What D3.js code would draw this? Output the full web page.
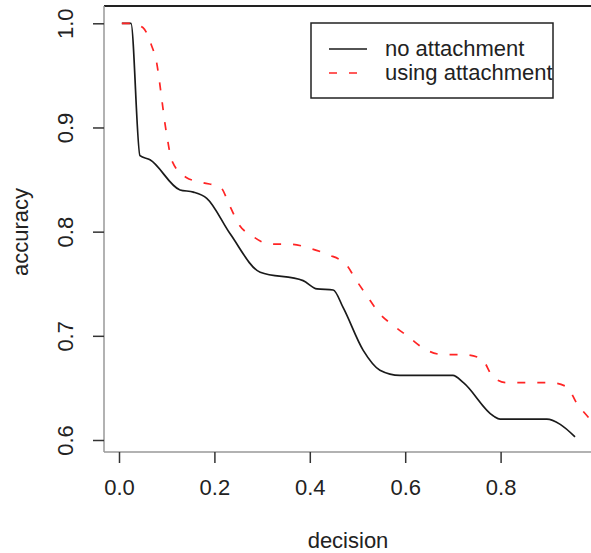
<!DOCTYPE html>
<html>
<head>
<meta charset="utf-8">
<script src="https://cdn.jsdelivr.net/npm/d3@7"></script>
<style>
  body { margin: 0; background: #fff; }
  svg { display: block; }
</style>
</head>
<body>
<svg id="chart"></svg>
<script>
// decision thresholds and accuracy
const noAttachDecision = [0.006, 0.025, 0.044, 0.065, 0.128, 0.156, 0.184, 0.233, 0.296, 0.386, 0.415, 0.449, 0.470, 0.512, 0.547, 0.589, 0.700, 0.722, 0.785, 0.799, 0.897, 0.925, 0.956];
const noAttachAccuracy = [1.0, 1.0, 0.873, 0.869, 0.840, 0.838, 0.832, 0.798, 0.761, 0.753, 0.745, 0.744, 0.727, 0.686, 0.667, 0.662, 0.662, 0.655, 0.623, 0.620, 0.620, 0.615, 0.603];

const attachDecision = [0.006, 0.025, 0.050, 0.068, 0.079, 0.090, 0.096, 0.103, 0.110, 0.141, 0.176, 0.212, 0.233, 0.250, 0.282, 0.317, 0.359, 0.400, 0.438, 0.477, 0.495, 0.519, 0.547, 0.575, 0.607, 0.642, 0.680, 0.722, 0.760, 0.785, 0.813, 0.904, 0.939, 0.960, 0.987, 1.0];
const attachAccuracy = [1.0, 1.0, 0.996, 0.979, 0.962, 0.926, 0.905, 0.885, 0.869, 0.852, 0.847, 0.843, 0.824, 0.808, 0.795, 0.788, 0.788, 0.784, 0.778, 0.768, 0.755, 0.739, 0.721, 0.710, 0.699, 0.687, 0.682, 0.682, 0.678, 0.660, 0.655, 0.655, 0.651, 0.635, 0.620, 0.612];

const xTicks = [0, 0.2, 0.4, 0.6, 0.8];
const yTicks = [0.6, 0.7, 0.8, 0.9, 1.0];
const seriesNames = ['no attachment', 'using attachment'];

const width = 591;
const height = 553;
const font = '"Liberation Sans", Arial, sans-serif';
const fontSize = 22;

const svg = d3.select('#chart')
    .attr('width', width)
    .attr('height', height)
    .attr('font-family', font);

// plot box (the right side runs off the picture)
const box = { left: 104, top: 6, right: 620, bottom: 452 };

const x = d3.scaleLinear().domain([0, 1]).range([119, 596]);
const y = d3.scaleLinear().domain([0.6, 1.0]).range([440, 23.3]);

svg.append('clipPath')
    .attr('id', 'plotclip')
    .append('rect')
    .attr('x', box.left)
    .attr('y', box.top)
    .attr('width', box.right - box.left)
    .attr('height', box.bottom - box.top);

// lines
const line = d3.line()
    .x(d => x(d[0]))
    .y(d => y(d[1]))
    .curve(d3.curveMonotoneX);

const noAttach = noAttachDecision.map((d, i) => [d, noAttachAccuracy[i]]);
const attach = attachDecision.map((d, i) => [d, attachAccuracy[i]]);

const plot = svg.append('g').attr('clip-path', 'url(#plotclip)');

plot.append('path')
    .datum(noAttach)
    .attr('d', line)
    .attr('fill', 'none')
    .attr('stroke', '#1a1a1a')
    .attr('stroke-width', 1.7);

plot.append('path')
    .datum(attach)
    .attr('d', line)
    .attr('fill', 'none')
    .attr('stroke', '#ff2424')
    .attr('stroke-width', 1.7)
    .attr('stroke-dasharray', '8,12');

// box edges
svg.append('line')
    .attr('x1', box.left).attr('x2', width)
    .attr('y1', box.top).attr('y2', box.top)
    .attr('stroke', '#222').attr('stroke-width', 2);
svg.append('line')
    .attr('x1', box.left).attr('x2', box.left)
    .attr('y1', box.top).attr('y2', box.bottom)
    .attr('stroke', '#999').attr('stroke-width', 1.5);
svg.append('line')
    .attr('x1', box.left).attr('x2', width)
    .attr('y1', box.bottom).attr('y2', box.bottom)
    .attr('stroke', '#999').attr('stroke-width', 1.5);

// x axis
const xAxis = svg.append('g')
    .attr('transform', `translate(0,${box.bottom})`)
    .call(d3.axisBottom(x).tickValues(xTicks).tickSize(11).tickPadding(16).tickFormat(d3.format('.1f')));
xAxis.select('.domain').remove();
xAxis.selectAll('line').attr('stroke', '#333').attr('stroke-width', 1.5);
xAxis.selectAll('text')
    .attr('font-family', font)
    .attr('font-size', fontSize)
    .attr('fill', '#222');

// y axis, labels rotated as in R
const yAxis = svg.append('g')
    .attr('transform', `translate(${box.left},0)`)
    .call(d3.axisLeft(y).tickValues(yTicks).tickSize(11).tickFormat(d3.format('.1f')));
yAxis.select('.domain').remove();
yAxis.selectAll('line').attr('stroke', '#333').attr('stroke-width', 1.5);
yAxis.selectAll('text')
    .attr('font-family', font)
    .attr('font-size', fontSize)
    .attr('fill', '#222')
    .attr('x', null)
    .attr('dy', null)
    .attr('text-anchor', 'middle')
    .attr('transform', 'translate(-38,0) rotate(-90)')
    .attr('y', 7);

// axis titles
svg.append('text')
    .attr('x', 348)
    .attr('y', 548)
    .attr('text-anchor', 'middle')
    .attr('font-size', fontSize)
    .attr('fill', '#222')
    .text('decision');

svg.append('text')
    .attr('transform', 'translate(28,232) rotate(-90)')
    .attr('text-anchor', 'middle')
    .attr('font-size', fontSize)
    .attr('fill', '#222')
    .text('accuracy');

// legend
const legend = svg.append('g');
legend.append('rect')
    .attr('x', 311)
    .attr('y', 23)
    .attr('width', 242)
    .attr('height', 75)
    .attr('fill', '#fff')
    .attr('stroke', '#222')
    .attr('stroke-width', 1.5);

const legendStyles = [
    { stroke: '#1a1a1a', dash: null },
    { stroke: '#ff2424', dash: '8,12' }
];

seriesNames.forEach((name, i) => {
    const ly = 49 + i * 24;
    legend.append('line')
        .attr('x1', 329).attr('x2', 367)
        .attr('y1', ly).attr('y2', ly)
        .attr('stroke', legendStyles[i].stroke)
        .attr('stroke-width', 1.7)
        .attr('stroke-dasharray', legendStyles[i].dash);
    legend.append('text')
        .attr('x', 385)
        .attr('y', ly + 7)
        .attr('font-size', fontSize)
        .attr('fill', '#222')
        .text(name);
});
</script>
</body>
</html>
